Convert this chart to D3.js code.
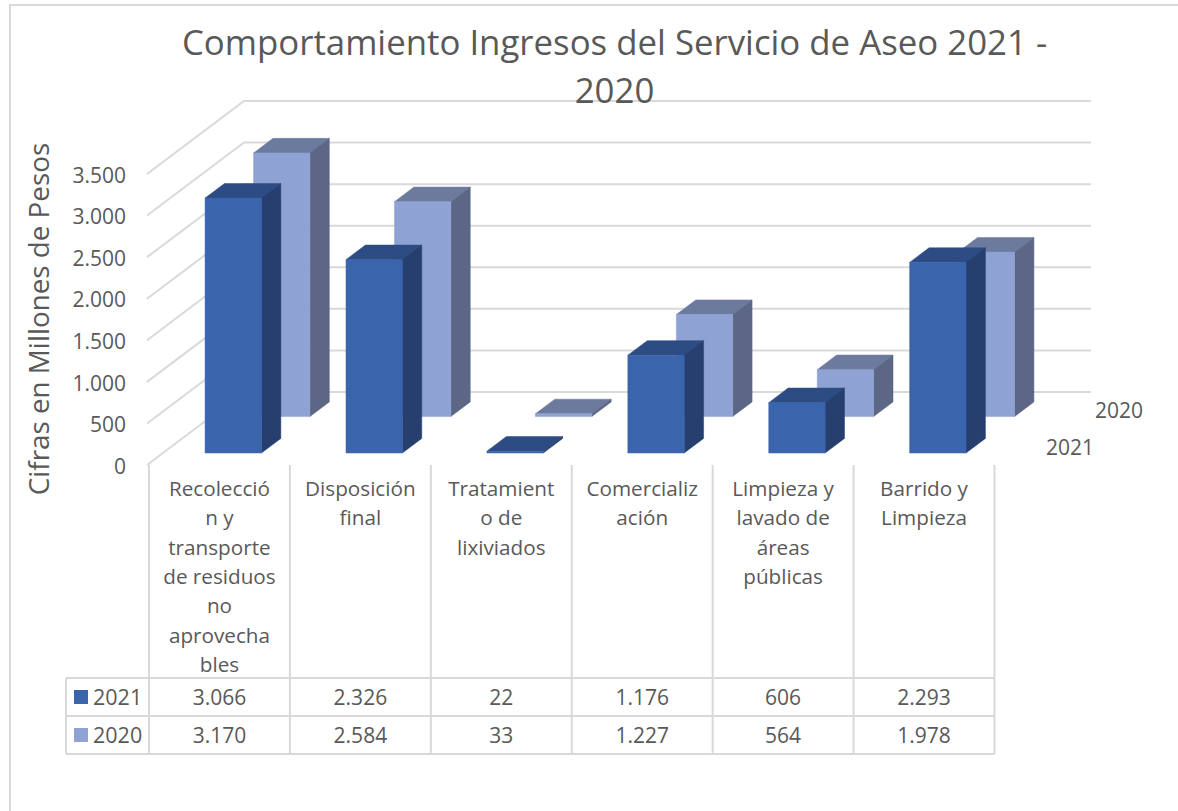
<!DOCTYPE html>
<html>
<head>
<meta charset="utf-8">
<script src="https://cdn.jsdelivr.net/npm/d3@7"></script>
<style>
  html, body { margin: 0; padding: 0; background: #fff; }
  svg { display: block; }
  text { font-family: "Open Sans", sans-serif; fill: #595959; }
</style>
</head>
<body>
<div id="chart"></div>
<script>
const categories = [
  ["Recolecció", "n y", "transporte", "de residuos", "no", "aprovecha", "bles"],
  ["Disposición", "final"],
  ["Tratamient", "o de", "lixiviados"],
  ["Comercializ", "ación"],
  ["Limpieza y", "lavado de", "áreas", "públicas"],
  ["Barrido y", "Limpieza"]
];
const seriesNames = ["2021", "2020"];
const values2021 = [3066, 2326, 22, 1176, 606, 2293];
const values2020 = [3170, 2584, 33, 1227, 564, 1978];
const yTicks = [0, 500, 1000, 1500, 2000, 2500, 3000, 3500];
const titleLines = ["Comportamiento Ingresos del Servicio de Aseo 2021 -", "2020"];
const yTitle = "Cifras en Millones de Pesos";

const W = 1178, H = 811;
const grid = "#d9d9d9";

// front colour, top face, side face
const colors = {
  "2021": { front: "#3a65ad", top: "#2d4c83", side: "#263f6e" },
  "2020": { front: "#8fa2d4", top: "#6c7a9e", side: "#5b6785" }
};
const valuesBySeries = { "2021": values2021, "2020": values2020 };

const svg = d3.select("#chart").append("svg")
  .attr("width", W)
  .attr("height", H);

// chart frame, runs off the bottom and right of the picture
svg.append("rect")
  .attr("x", 10).attr("y", 5)
  .attr("width", W + 40).attr("height", H + 40)
  .attr("fill", "none")
  .attr("stroke", grid)
  .attr("stroke-width", 2);

const x = d3.scaleBand()
  .domain(categories.map((d, i) => i))
  .range([149, 994.5]);

const y = d3.scaleLinear()
  .domain([0, 3500])
  .range([465, 174]);

// depth goes from 0 (front of the floor) to 1 (back wall)
const depth = d3.scaleBand()
  .domain(seriesNames)
  .range([0.014, 1.014])
  .paddingInner(0.6)
  .paddingOuter(0.3);

const depthX = 97, depthY = 73;
const px = (xv, z) => xv + depthX * z;
const py = (v, z) => y(v) - depthY * z;

// walls
const wall = svg.append("g").attr("fill", "none").attr("stroke", grid).attr("stroke-width", 2);
yTicks.forEach(t => {
  wall.append("path")
    .attr("d", d3.line()([
      [px(147, 0), py(t, 0)],
      [px(147, 1), py(t, 1)],
      [1091, py(t, 1)]
    ]));
});

// bars, back series first so the front one covers it
const barW = x.bandwidth() * 0.4;
const barOffset = x.bandwidth() * 0.285;
const line = d3.line();

seriesNames.slice().reverse().forEach(name => {
  const c = colors[name];
  const z0 = depth(name), z1 = z0 + depth.bandwidth();
  const g = svg.append("g").attr("class", "series-" + name);
  valuesBySeries[name].forEach((v, i) => {
    const l = x(i) + barOffset, r = l + barW;
    g.append("path").attr("fill", c.top).attr("stroke", c.top).attr("stroke-width", 0.5)
      .attr("d", line([[px(l, z0), py(v, z0)], [px(r, z0), py(v, z0)], [px(r, z1), py(v, z1)], [px(l, z1), py(v, z1)]]) + "Z");
    g.append("path").attr("fill", c.side).attr("stroke", c.side).attr("stroke-width", 0.5)
      .attr("d", line([[px(r, z0), py(v, z0)], [px(r, z1), py(v, z1)], [px(r, z1), py(0, z1)], [px(r, z0), py(0, z0)]]) + "Z");
    g.append("path").attr("fill", c.front).attr("stroke", c.front).attr("stroke-width", 0.5)
      .attr("d", line([[px(l, z0), py(v, z0)], [px(r, z0), py(v, z0)], [px(r, z0), py(0, z0)], [px(l, z0), py(0, z0)]]) + "Z");
  });
});

// value axis
const fmt = d3.formatLocale({ decimal: ",", thousands: ".", grouping: [3], currency: ["$", ""] }).format(",");
const yAxis = svg.append("g")
  .attr("transform", "translate(126,1.5)")
  .call(d3.axisLeft(y).tickValues(yTicks).tickSize(0).tickPadding(0).tickFormat(fmt));
yAxis.select(".domain").remove();
yAxis.selectAll("text").style("font-size", "21px").style("fill", "#595959").style("font-family", '"Open Sans", sans-serif');

svg.append("text")
  .attr("transform", "translate(49,319) rotate(-90)")
  .attr("text-anchor", "middle")
  .style("font-size", "27.8px")
  .text(yTitle);

// depth axis labels
svg.append("text").attr("x", 1094).attr("y", 455).attr("text-anchor", "end").style("font-size", "21px").text(seriesNames[0]);
svg.append("text").attr("x", 1143).attr("y", 418).attr("text-anchor", "end").style("font-size", "21px").text(seriesNames[1]);

// title, drawn over the top gridline
const title = svg.append("g").attr("text-anchor", "middle").style("font-size", "34.8px");
title.selectAll("text").data(titleLines).enter().append("text")
  .attr("x", 614.5)
  .attr("y", (d, i) => 55 + i * 48)
  .text(d => d);

// data table
const rows = [678, 716, 754];
const table = svg.append("g").attr("fill", "none").attr("stroke", grid).attr("stroke-width", 2);
rows.forEach(ry => {
  table.append("line").attr("x1", 66).attr("x2", x.range()[1]).attr("y1", ry).attr("y2", ry);
});
table.append("line").attr("x1", 66).attr("x2", 66).attr("y1", rows[0]).attr("y2", rows[2]);
categories.forEach((d, i) => {
  table.append("line").attr("x1", x(i)).attr("x2", x(i)).attr("y1", 465).attr("y2", rows[2]);
});
table.append("line").attr("x1", x.range()[1]).attr("x2", x.range()[1]).attr("y1", 465).attr("y2", rows[2]);

const catLabels = svg.append("g").attr("text-anchor", "middle").style("font-size", "20.7px");
categories.forEach((lines, i) => {
  lines.forEach((t, j) => {
    catLabels.append("text")
      .attr("x", x(i) + x.bandwidth() / 2)
      .attr("y", 496 + j * 29.3)
      .text(t);
  });
});

seriesNames.forEach((name, r) => {
  const cy = (rows[r] + rows[r + 1]) / 2;
  svg.append("rect")
    .attr("x", 74).attr("y", cy - 7)
    .attr("width", 14).attr("height", 14)
    .attr("fill", colors[name].front);
  svg.append("text")
    .attr("x", 93).attr("y", cy + 8)
    .style("font-size", "21.5px")
    .text(name);
  valuesBySeries[name].forEach((v, i) => {
    svg.append("text")
      .attr("x", x(i) + x.bandwidth() / 2)
      .attr("y", cy + 8)
      .attr("text-anchor", "middle")
      .style("font-size", "21px")
      .text(fmt(v));
  });
});
</script>
</body>
</html>
